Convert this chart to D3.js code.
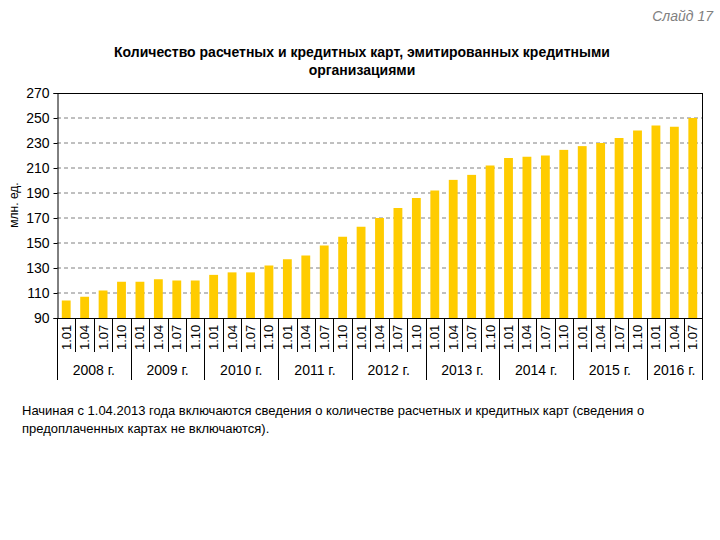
<!DOCTYPE html>
<html>
<head>
<meta charset="utf-8">
<script src="https://cdn.jsdelivr.net/npm/d3@7"></script>
<style>
  body { margin: 0; background: #fff; }
  svg { display: block; }
</style>
</head>
<body>
<svg id="chart" width="720" height="540"></svg>
<script>
// quarterly dates, grouped by year
const years = ["2008", "2009", "2010", "2011", "2012", "2013", "2014", "2015", "2016"];
const quarters = ["1.01", "1.04", "1.07", "1.10"];
const quartersPerYear = [4, 4, 4, 4, 4, 4, 4, 4, 3];

// млн. ед.
const values = [
  104, 107, 112, 119,
  119, 121, 120, 120,
  124.5, 126.5, 126.5, 132,
  137, 140, 148, 155,
  163, 170, 178, 186,
  192, 200.5, 204.5, 212,
  218, 219, 220, 224.5,
  227.5, 230, 234, 240,
  244, 243, 250
];

const yTicks = [90, 110, 130, 150, 170, 190, 210, 230, 250, 270];

const FONT = "'Liberation Sans', Arial, sans-serif";
const NARROW = "'Liberation Sans Narrow', 'Liberation Sans', Arial, sans-serif";

const cats = [];
years.forEach((y, yi) => {
  for (let q = 0; q < quartersPerYear[yi]; q++) cats.push({ year: y, q: quarters[q], yi });
});
cats.forEach((c, i) => { c.i = i; c.value = values[i]; });

const L = 57, R = 702, T = 93, B = 318;
const svg = d3.select("#chart");

const x = d3.scaleBand().domain(cats.map(d => d.i)).range([L, R]).paddingInner(0.52).paddingOuter(0.26);
const xEdge = i => L + i * (R - L) / cats.length;
const y = d3.scaleLinear().domain([90, 270]).range([B, T]);

// gridlines
svg.append("g").selectAll("line")
  .data(yTicks.filter(t => t > 90 && t < 270))
  .join("line")
  .attr("x1", L).attr("x2", R)
  .attr("y1", d => y(d)).attr("y2", d => y(d))
  .attr("stroke", "#808080").attr("stroke-width", 1)
  .attr("stroke-dasharray", "4,3");

// bars
svg.append("g").selectAll("rect")
  .data(cats)
  .join("rect")
  .attr("x", d => x(d.i))
  .attr("width", x.bandwidth())
  .attr("y", d => y(d.value))
  .attr("height", d => B - y(d.value))
  .attr("fill", "#FFCC00");

// frame: top and right
svg.append("line").attr("x1", L).attr("x2", R).attr("y1", T + 0.5).attr("y2", T + 0.5).attr("stroke", "#000");
svg.append("line").attr("x1", R + 0.5).attr("x2", R + 0.5).attr("y1", T).attr("y2", B).attr("stroke", "#000");

// y axis
const yAxis = svg.append("g")
  .attr("transform", `translate(${L + 0.5},0)`)
  .call(d3.axisLeft(y).tickValues(yTicks).tickSize(4).tickPadding(4));
yAxis.select(".domain").attr("stroke", "#000");
yAxis.selectAll("text").attr("font-family", NARROW).attr("font-size", 14).attr("fill", "#000");

svg.append("text")
  .attr("transform", `translate(18,205) rotate(-90)`)
  .attr("text-anchor", "middle")
  .attr("font-family", NARROW).attr("font-size", 12)
  .text("млн. ед.");

// x baseline
svg.append("line").attr("x1", L).attr("x2", R).attr("y1", B + 0.5).attr("y2", B + 0.5).attr("stroke", "#000");

// category separators
const sep = svg.append("g").attr("stroke", "#000").attr("stroke-width", 1);
const yearStarts = [];
let acc = 0;
quartersPerYear.forEach(n => { yearStarts.push(acc); acc += n; });
for (let i = 0; i <= cats.length; i++) {
  const isYear = i === cats.length || yearStarts.includes(i);
  sep.append("line")
    .attr("x1", Math.round(xEdge(i)) + 0.5).attr("x2", Math.round(xEdge(i)) + 0.5)
    .attr("y1", B).attr("y2", isYear ? 380 : 352);
}

// quarter labels
svg.append("g").selectAll("text")
  .data(cats)
  .join("text")
  .attr("transform", d => `translate(${x(d.i) + x.bandwidth() / 2 + 4.5},350) rotate(-90)`)
  .attr("text-anchor", "start")
  .attr("font-family", NARROW).attr("font-size", 13)
  .text(d => d.q);

// year labels
svg.append("g").selectAll("text")
  .data(years)
  .join("text")
  .attr("x", (d, i) => (xEdge(yearStarts[i]) + xEdge(yearStarts[i] + quartersPerYear[i])) / 2)
  .attr("y", 375)
  .attr("text-anchor", "middle")
  .attr("font-family", NARROW).attr("font-size", 14)
  .text(d => d + " г.");

// title
const title = svg.append("text")
  .attr("text-anchor", "middle")
  .attr("font-family", NARROW).attr("font-size", 14).attr("font-weight", "bold");
title.append("tspan").attr("x", 362).attr("y", 57).text("Количество расчетных и кредитных карт, эмитированных кредитными");
title.append("tspan").attr("x", 362).attr("y", 75).text("организациями");

svg.append("text")
  .attr("x", 713).attr("y", 21)
  .attr("text-anchor", "end")
  .attr("font-family", FONT).attr("font-size", 14).attr("font-style", "italic")
  .attr("fill", "#808080")
  .text("Слайд 17");

// footnote
const note = svg.append("text")
  .attr("font-family", NARROW).attr("font-size", 13);
note.append("tspan").attr("x", 22).attr("y", 415)
  .text("Начиная с 1.04.2013 года включаются сведения о количестве расчетных и кредитных карт (сведения о");
note.append("tspan").attr("x", 22).attr("y", 433)
  .text("предоплаченных картах не включаются).");
</script>
</body>
</html>
